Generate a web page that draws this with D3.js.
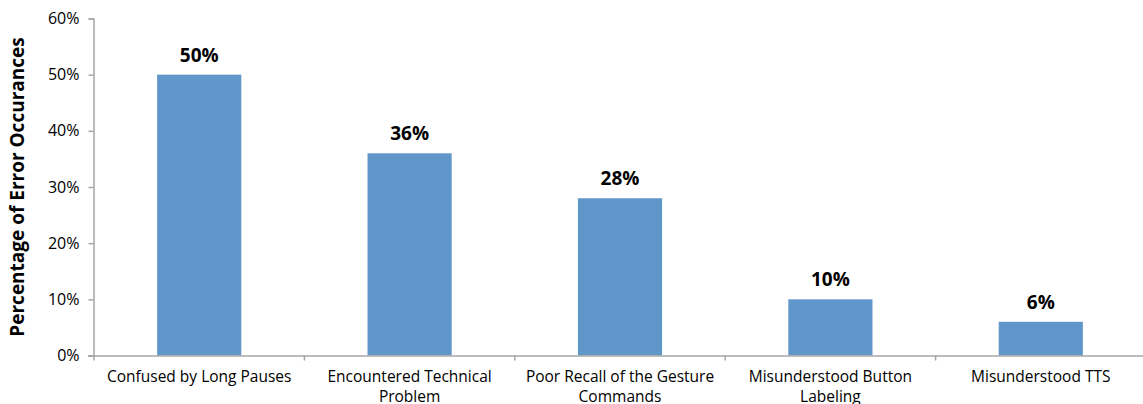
<!DOCTYPE html>
<html>
<head>
<meta charset="utf-8">
<script src="https://cdn.jsdelivr.net/npm/d3@7/dist/d3.min.js"></script>
<style>
  html, body { margin: 0; padding: 0; background: #fff; }
  svg { display: block; }
  text { font-family: "Open Sans", "Noto Sans", sans-serif; fill: #000; }
</style>
</head>
<body>
<svg id="chart" width="1143" height="404"></svg>
<script>
// Error categories (each entry is a list of wrapped label lines)
const categories = [
  ["Confused by Long Pauses"],
  ["Encountered Technical", "Problem"],
  ["Poor Recall of the Gesture", "Commands"],
  ["Misunderstood Button", "Labeling"],
  ["Misunderstood TTS"]
];
// Share of error occurrences, percent
const values = [50, 36, 28, 10, 6];
const yTicks = [0, 10, 20, 30, 40, 50, 60];
const yTitle = "Percentage of Error Occurances";

const svg = d3.select("#chart");
const margin = { left: 94, right: -3, top: 18.5, bottom: 48.5 };
const W = 1143, H = 404;

const keys = categories.map(d => d.join(" "));
const x = d3.scaleBand()
  .domain(keys)
  .range([margin.left, W - margin.right])
  .paddingInner(0.6)
  .paddingOuter(0.3);

const y = d3.scaleLinear()
  .domain([0, 60])
  .range([H - margin.bottom, margin.top]);

const axisColor = "#a6a6a6";

// Bars
svg.append("g").selectAll("rect")
  .data(values)
  .join("rect")
  .attr("x", (d, i) => x(keys[i]))
  .attr("y", d => y(d))
  .attr("width", x.bandwidth())
  .attr("height", d => y(0) - y(d))
  .attr("fill", "#6096c9");

// Y axis
const yAxis = svg.append("g")
  .attr("transform", `translate(${margin.left - 0.5},0)`)
  .call(d3.axisLeft(y).tickValues(yTicks).tickFormat(d => d + "%").tickSize(5).tickPadding(9));
yAxis.select(".domain").attr("stroke", axisColor).attr("stroke-width", 1.5);
yAxis.selectAll(".tick line").attr("stroke", axisColor).attr("stroke-width", 1.5);
yAxis.selectAll(".tick text")
  .style("font-size", "16px")
  .attr("fill", "#000");

// X axis: baseline with tick marks at the category boundaries
const step = x.step();
const x0 = x.range()[0];
const bounds = d3.range(categories.length + 1).map(i => x0 + i * step);
const xg = svg.append("g");
xg.append("line")
  .attr("x1", margin.left - 6).attr("x2", W)
  .attr("y1", y(0) + 0.5).attr("y2", y(0) + 0.5)
  .attr("stroke", axisColor).attr("stroke-width", 1.5);
xg.selectAll("line.tk")
  .data(bounds)
  .join("line")
  .attr("class", "tk")
  .attr("x1", d => d).attr("x2", d => d)
  .attr("y1", y(0)).attr("y2", y(0) + 5)
  .attr("stroke", axisColor).attr("stroke-width", 1.5);

// Category labels
xg.selectAll("text.cat")
  .data(categories)
  .join("text")
  .attr("class", "cat")
  .attr("text-anchor", "middle")
  .attr("x", (d, i) => x(keys[i]) + x.bandwidth() / 2)
  .attr("y", y(0) + 26)
  .style("font-size", "15.5px")
  .selectAll("tspan")
  .data(d => d)
  .join("tspan")
  .attr("x", function () { return this.parentNode.getAttribute("x"); })
  .attr("dy", (d, i) => i === 0 ? 0 : 20.5)
  .text(d => d);

// Value labels
svg.append("g").selectAll("text")
  .data(values)
  .join("text")
  .attr("text-anchor", "middle")
  .attr("x", (d, i) => x(keys[i]) + x.bandwidth() / 2)
  .attr("y", d => y(d) - 13)
  .style("font-size", "19px")
  .style("font-weight", "bold")
  .text(d => d + "%");

// Y axis title
svg.append("text")
  .attr("transform", `translate(24,${(y(0) + y(60)) / 2}) rotate(-90)`)
  .attr("text-anchor", "middle")
  .style("font-size", "19px")
  .style("font-weight", "bold")
  .text(yTitle);
</script>
</body>
</html>
